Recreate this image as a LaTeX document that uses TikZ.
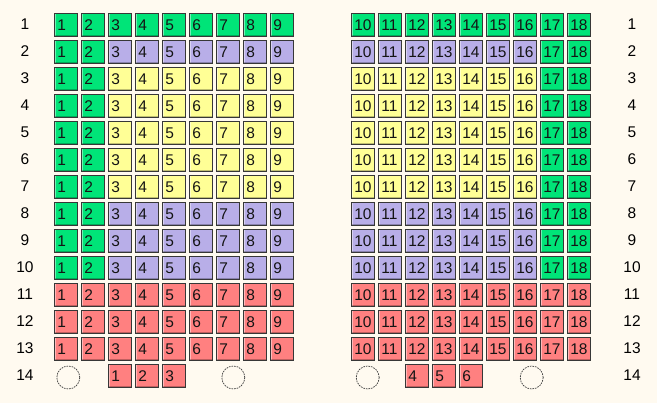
\documentclass[tikz,border=0pt]{standalone}
\usepackage{fontspec}
\setmainfont{Liberation Sans}
\definecolor{bg}{RGB}{255,250,240}
\definecolor{sgreen}{RGB}{0,228,120}
\definecolor{spurple}{RGB}{184,174,232}
\definecolor{syellow}{RGB}{255,255,150}
\definecolor{sred}{RGB}{255,128,128}
\definecolor{seatborder}{RGB}{55,55,55}
\definecolor{ink}{RGB}{20,20,20}
\newcommand\pickseatcolor[2]{%
  \ifnum#1>10 \gdef\sc{sred}\else
  \ifnum#2<3 \gdef\sc{sgreen}\else
  \ifnum#2>16 \gdef\sc{sgreen}\else
  \ifnum#1=1 \gdef\sc{sgreen}\else
  \ifnum#1=2 \gdef\sc{spurple}\else
  \ifnum#1<8 \gdef\sc{syellow}\else \gdef\sc{spurple}\fi\fi\fi\fi\fi\fi}
\tikzset{
  seat/.style={draw=seatborder, line width=1pt, minimum width=23pt, minimum height=23pt,
    inner xsep=2.5pt, inner ysep=0pt, text width=18pt, align=left,
    text height=11pt, text depth=0pt,
    anchor=north west, text=ink, font=\fontsize{15.5}{15.5}\selectfont,
    path picture={
      \draw[line width=2.2pt, white, opacity=0.45]
        (path picture bounding box.south west) -- (path picture bounding box.north west)
        -- (path picture bounding box.north east);
      \draw[line width=2.2pt, black, opacity=0.25]
        (path picture bounding box.north east) -- (path picture bounding box.south east)
        -- (path picture bounding box.south west);}},
  rowlabel/.style={inner sep=0pt, text=black, font=\fontsize{15.5}{15.5}\selectfont},
  spare/.style={circle, draw=seatborder, line width=0.7pt, dash pattern=on 1.6pt off 1pt,
    minimum size=23pt, inner sep=0pt}
}
\begin{document}
\begin{tikzpicture}[x=1pt,y=-1pt]
\fill[bg] (0,0) rectangle (657,403);
\useasboundingbox (0,0) rectangle (657,403);
% rows 1-13
\foreach \r in {1,...,13}{
  \foreach \n in {1,...,18}{
    \pgfmathtruncatemacro\p{\n<10 ? \n : \n+2}
    \pickseatcolor{\r}{\n}
    \node[seat, fill=\sc] (s-\r-\n) at ({54.3+27*(\p-1)},{12.7+27*(\r-1)}) {\n};
  }
  \node[rowlabel] (l-\r) at (25,{24.2+27*(\r-1)}) {\r};
  \node[rowlabel] (rl-\r) at (632,{24.2+27*(\r-1)}) {\r};
}
% row 14
\node[rowlabel] (l-14) at (25,375.2) {14};
\node[rowlabel] (rl-14) at (632,375.2) {14};
\foreach \n/\p in {1/3,2/4,3/5,4/14,5/15,6/16}{
  \node[seat, fill=sred] (s-14-\n) at ({54.3+27*(\p-1)},363.7) {\n};
}
\node[spare] (c1) at (68.3,377.5) {};
\node[spare] (c2) at (233.3,377.5) {};
\node[spare] (c3) at (367.7,377.5) {};
\node[spare] (c4) at (531.7,377.5) {};
\end{tikzpicture}
\end{document}
